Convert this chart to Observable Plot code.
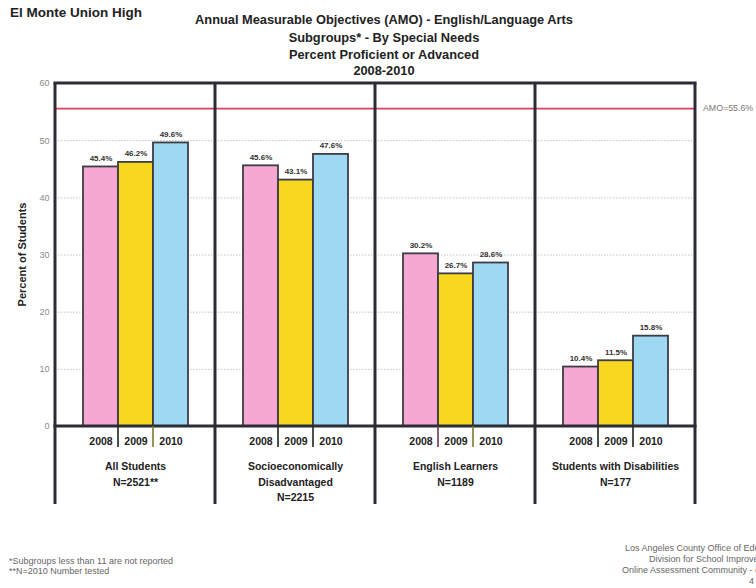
<!DOCTYPE html>
<html>
<head>
<meta charset="utf-8">
<script src="https://cdn.jsdelivr.net/npm/d3@7"></script>
<script src="https://cdn.jsdelivr.net/npm/@observablehq/plot@0.6"></script>
<style>
  html, body { margin: 0; padding: 0; background: #fff; }
  #chart { width: 756px; height: 588px; position: relative; overflow: hidden; }
</style>
</head>
<body>
<div id="chart"></div>
<script>
const categories = ["All Students", "Socioeconomically Disadvantaged", "English Learners", "Students with Disabilities"];
const categoryLabels = ["All Students\nN=2521**", "Socioeconomically\nDisadvantaged\nN=2215", "English Learners\nN=1189", "Students with Disabilities\nN=177"];
const years = ["2008", "2009", "2010"];
const values2008 = [45.4, 45.6, 30.2, 10.4];
const values2009 = [46.2, 43.1, 26.7, 11.5];
const values2010 = [49.6, 47.6, 28.6, 15.8];
const amoValue = 55.6;
const yTicks = [0, 10, 20, 30, 40, 50, 60];
const gridTicks = [10, 20, 30, 40, 50];
const yearColors = ["#f6a8d2", "#f8d81e", "#9fd8f2"];

const titleLines = [
  "Annual Measurable Objectives (AMO) - English/Language Arts",
  "Subgroups* - By Special Needs",
  "Percent Proficient or Advanced",
  "2008-2010"
];
const schoolName = "El Monte Union High";
const yLabel = "Percent of Students";
const amoLabel = "AMO=55.6%";
const footLeft = ["*Subgroups less than 11 are not reported", "**N=2010 Number tested"];
const footRight = ["Los Angeles County Office of Education", "Division for School Improvement", "Online Assessment Community - cac.lacoe.edu", "4"];

const seriesByYear = [values2008, values2009, values2010];
const data = [];
categories.forEach((cat, i) => {
  years.forEach((yr, j) => data.push({cat, year: yr, value: seriesByYear[j][i]}));
});
const catData = categories.map((cat, i) => ({cat, label: categoryLabels[i]}));

const FONT = "'Liberation Sans', Arial, sans-serif";

(function () {
const plot = Plot.plot({
  width: 756,
  height: 588,
  marginLeft: 53,
  marginRight: 60,
  marginTop: 83,
  marginBottom: 162,
  style: {fontFamily: FONT, background: "#fff", overflow: "hidden"},
  fx: {domain: categories, padding: 0, axis: null},
  x: {domain: years, paddingInner: 0, paddingOuter: 0.77, axis: null},
  y: {domain: [0, 60]},
  color: {domain: years, range: yearColors},
  marks: [
    Plot.ruleY(gridTicks, {stroke: "#c4c4c4", strokeDasharray: "1.5,1.5", strokeWidth: 1}),
    Plot.axisY({ticks: yTicks, tickSize: 0, tickPadding: 6, label: null, fill: "#8a8a8a", fontSize: 9}),
    Plot.ruleY([amoValue], {stroke: "#d9405c", strokeWidth: 1.6}),
    Plot.barY(data, {fx: "cat", x: "year", y: "value", fill: "year", stroke: "#3c3c46", strokeWidth: 1.8}),
    Plot.text(data, {fx: "cat", x: "year", y: "value", text: d => d.value.toFixed(1) + "%", dy: -6, lineAnchor: "bottom", fontWeight: "bold", fontSize: 8, fill: "#333"}),
    Plot.text(data, {fx: "cat", x: "year", y: () => 0, text: "year", dy: 15, fontWeight: "bold", fontSize: 10.5, fill: "#222"}),
    Plot.text(catData, {fx: "cat", text: "label", frameAnchor: "bottom", dy: 33, lineAnchor: "top", lineHeight: 1.45, fontWeight: "bold", fontSize: 10.5, fill: "#222"})
  ]
});

document.getElementById("chart").appendChild(plot);

const svg = d3.select(plot);
const fx = plot.scale("fx");
const xs = plot.scale("x");
const ys = plot.scale("y");
const yTop = ys.apply(60), yBase = ys.apply(0);
const xLeft = fx.apply(categories[0]);
const xRight = fx.apply(categories[categories.length - 1]) + fx.bandwidth;
const frameColor = "#2c2c36";
const g = svg.append("g");

g.append("line").attr("x1", xLeft - 1.5).attr("x2", xRight + 1.5).attr("y1", yTop).attr("y2", yTop)
  .attr("stroke", frameColor).attr("stroke-width", 3);
g.append("line").attr("x1", xLeft - 1.5).attr("x2", xRight + 1.5).attr("y1", yBase).attr("y2", yBase)
  .attr("stroke", frameColor).attr("stroke-width", 3);
const edges = categories.map(c => fx.apply(c)).concat([xRight]);
edges.forEach(e => {
  g.append("line").attr("x1", e).attr("x2", e).attr("y1", yTop).attr("y2", yBase + 78)
    .attr("stroke", frameColor).attr("stroke-width", 3);
});
const sepColors = [["#222", "#7a7a30"], ["#222", "#222"], ["#6a3a4a", "#7a7a30"], ["#222", "#222"]];
categories.forEach((c, i) => {
  years.slice(1).forEach((yr, j) => {
    const xx = fx.apply(c) + xs.apply(yr) - xs.range[0];
    g.append("line").attr("x1", xx).attr("x2", xx).attr("y1", yBase).attr("y2", yBase + 21)
      .attr("stroke", sepColors[i][j]).attr("stroke-width", 1.6);
  });
});

const t = svg.append("g").attr("font-family", FONT);
t.append("text").attr("x", 10).attr("y", 17).attr("text-anchor", "start").attr("font-size", 13.5).attr("font-weight", "bold").attr("fill", "#222").text(schoolName);
titleLines.forEach((s, i) => {
  t.append("text").attr("x", 384).attr("y", [24, 42, 59, 75][i]).attr("text-anchor", "middle")
    .attr("font-size", 12.8).attr("font-weight", "bold").attr("fill", "#222").text(s);
});
t.append("text").attr("transform", `translate(26,${(yTop + yBase) / 2}) rotate(-90)`).attr("text-anchor", "middle")
  .attr("font-size", 11).attr("font-weight", "bold").attr("fill", "#222").text(yLabel);
t.append("text").attr("x", xRight + 8).attr("y", ys.apply(amoValue) + 3).attr("text-anchor", "start").attr("font-size", 8.8).attr("fill", "#777").text(amoLabel);
footLeft.forEach((s, i) => {
  t.append("text").attr("x", 9).attr("y", 564 + i * 10).attr("text-anchor", "start").attr("font-size", 9).attr("fill", "#666").text(s);
});
const footRightX = [625, 649, 622, 749];
footRight.forEach((s, i) => {
  t.append("text").attr("x", footRightX[i]).attr("y", 551 + i * 11).attr("text-anchor", "start").attr("font-size", 9).attr("fill", "#666").text(s);
});
})();
</script>
</body>
</html>
